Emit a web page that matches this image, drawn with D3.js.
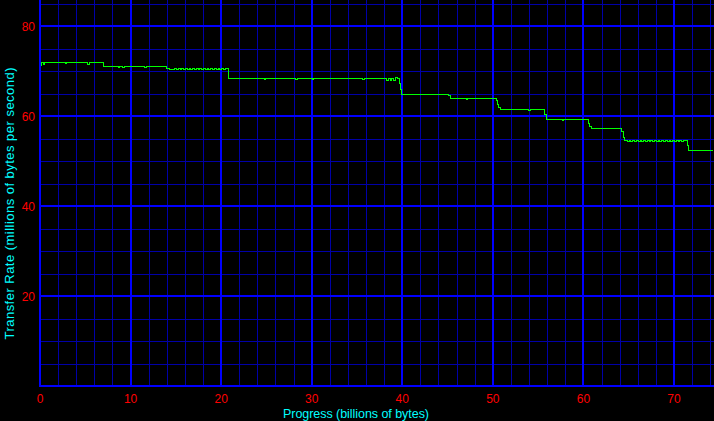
<!DOCTYPE html>
<html><head><meta charset="utf-8">
<script src="https://cdn.jsdelivr.net/npm/d3@7"></script>
<style>
html,body{margin:0;padding:0;background:#000;}
svg{display:block;}
text{font-family:"Liberation Sans",Arial,sans-serif;}
</style></head>
<body><svg id="c" width="714" height="421"></svg>
<script>
// ---- data ----
const progress = [0,0.15,0.3,0.45,2.75,2.9,5.2,5.45,7.0,7.15,8.6,8.75,9.1,9.25,11.5,11.65,
  13.95,14.25,14.6,14.8,15.0,15.2,15.45,15.6,15.8,16.0,16.2,16.4,16.6,16.75,17.0,17.2,17.4,17.6,17.8,18.0,18.2,18.4,18.6,18.8,19.0,19.2,19.4,19.6,19.8,20.0,20.2,20.4,
  20.75,24.7,24.85,28.2,28.35,30.0,30.15,35.6,35.75,38.2,38.4,38.6,38.8,39.0,39.2,39.4,39.6,39.75,39.9,45.1,45.3,47.0,47.15,50.3,50.45,50.6,50.8,53.9,54.05,55.7,55.85,57.6,57.75,60.5,60.65,60.8,64.2,64.35,
  64.5,64.8,65.0,65.2,65.4,65.6,65.8,66.0,66.2,66.4,66.6,66.8,67.0,67.2,67.4,67.6,67.8,68.0,68.2,68.4,68.6,68.8,69.0,69.2,69.4,69.6,69.8,70.0,70.2,70.4,70.6,70.8,71.0,71.2,
  71.45,71.6,74.15];
const rate     = [71.3,71.9,71.6,71.9,71.7,71.9,71.6,71.9,71.2,71.2,71.0,71.2,71.0,71.2,71.0,71.2,
  70.75,70.45,70.45,70.75,70.5,70.75,70.5,70.75,70.5,70.75,70.5,70.75,70.5,70.75,70.5,70.75,70.5,70.75,70.5,70.75,70.5,70.75,70.5,70.75,70.5,70.75,70.5,70.75,70.5,70.75,70.5,70.75,
  68.4,68.2,68.4,68.2,68.4,68.2,68.4,68.2,68.4,68.1,68.5,67.9,68.5,68.0,68.6,68.4,67.3,66.0,65.0,64.6,63.9,63.7,63.9,63.5,62.6,62.0,61.5,61.3,61.5,60.4,59.3,59.1,59.3,58.5,57.8,57.4,56.6,55.3,
  54.7,54.45,54.7,54.45,54.7,54.45,54.7,54.45,54.7,54.45,54.7,54.45,54.7,54.45,54.7,54.45,54.7,54.45,54.7,54.45,54.7,54.45,54.7,54.45,54.7,54.45,54.7,54.45,54.7,54.45,54.7,54.45,54.7,54.7,
  53.6,52.4,52.4];
const xTicks = [0,10,20,30,40,50,60,70];
const yTicks = [20,40,60,80];
const xTitle = "Progress (billions of bytes)";
const yTitle = "Transfer Rate (millions of bytes per second)";

const W = 714, H = 421;
const svg = d3.select("#c");
svg.append("rect").attr("width",W).attr("height",H).attr("fill","#000");

const x = d3.scaleLinear().domain([0,74.42]).range([40,714]);
const y = d3.scaleLinear().domain([0,80]).range([386,26]);

const g = svg.append("g").attr("shape-rendering","crispEdges");
// minor grid
const xMinor = d3.range(0,75,2).filter(v=>v%10!==0);
const yMinor = d3.range(0,86,5).filter(v=>v%20!==0);
g.selectAll(".xm").data(xMinor).join("line")
 .attr("x1",d=>Math.round(x(d))+0.5).attr("x2",d=>Math.round(x(d))+0.5)
 .attr("y1",0).attr("y2",386).attr("stroke","#0000a8").attr("stroke-width",1);
g.selectAll(".ym").data(yMinor).join("line")
 .attr("y1",d=>Math.round(y(d))+0.5).attr("y2",d=>Math.round(y(d))+0.5)
 .attr("x1",40).attr("x2",W).attr("stroke","#0000a8").attr("stroke-width",1);
// major grid
g.selectAll(".xM").data(xTicks.filter(v=>v>0)).join("line")
 .attr("x1",d=>Math.round(x(d))).attr("x2",d=>Math.round(x(d)))
 .attr("y1",0).attr("y2",387).attr("stroke","#0000ff").attr("stroke-width",2);
g.selectAll(".yM").data(yTicks).join("line")
 .attr("y1",d=>Math.round(y(d))).attr("y2",d=>Math.round(y(d)))
 .attr("x1",40).attr("x2",W).attr("stroke","#0000ff").attr("stroke-width",2);
// axes lines
g.append("line").attr("x1",40).attr("x2",40).attr("y1",0).attr("y2",387).attr("stroke","#0000ff").attr("stroke-width",2);
g.append("line").attr("x1",39).attr("x2",W).attr("y1",386).attr("y2",386).attr("stroke","#0000ff").attr("stroke-width",2);

// data line
const pts = progress.map((p,i)=>[p,rate[i]]);
const line = d3.line().x(d=>Math.round(x(d[0]))+0.5).y(d=>Math.round(y(d[1]))+0.5).curve(d3.curveStepAfter);
svg.append("path").attr("d",line(pts)).attr("fill","none").attr("stroke","#00ff00").attr("stroke-width",1).attr("shape-rendering","crispEdges");

// tick labels
svg.selectAll(".xl").data(xTicks).join("text")
 .attr("x",d=>x(d)).attr("y",403).attr("text-anchor","middle")
 .attr("fill","#ff0000").attr("font-size",12).text(d=>d);
svg.selectAll(".yl").data(yTicks).join("text")
 .attr("x",35).attr("y",d=>y(d)+4.5).attr("text-anchor","end")
 .attr("fill","#ff0000").attr("font-size",12).text(d=>d);

// titles
svg.append("text").attr("x",356).attr("y",418).attr("text-anchor","middle")
 .attr("fill","#00ffff").attr("font-size",12.5)
 .attr("textLength",146).attr("lengthAdjust","spacing").text(xTitle);
svg.append("text").attr("transform","translate(14,203.5) rotate(-90)").attr("text-anchor","middle")
 .attr("fill","#00ffff").attr("font-size",13)
 .attr("textLength",272).attr("lengthAdjust","spacing").text(yTitle);
</script></body></html>
